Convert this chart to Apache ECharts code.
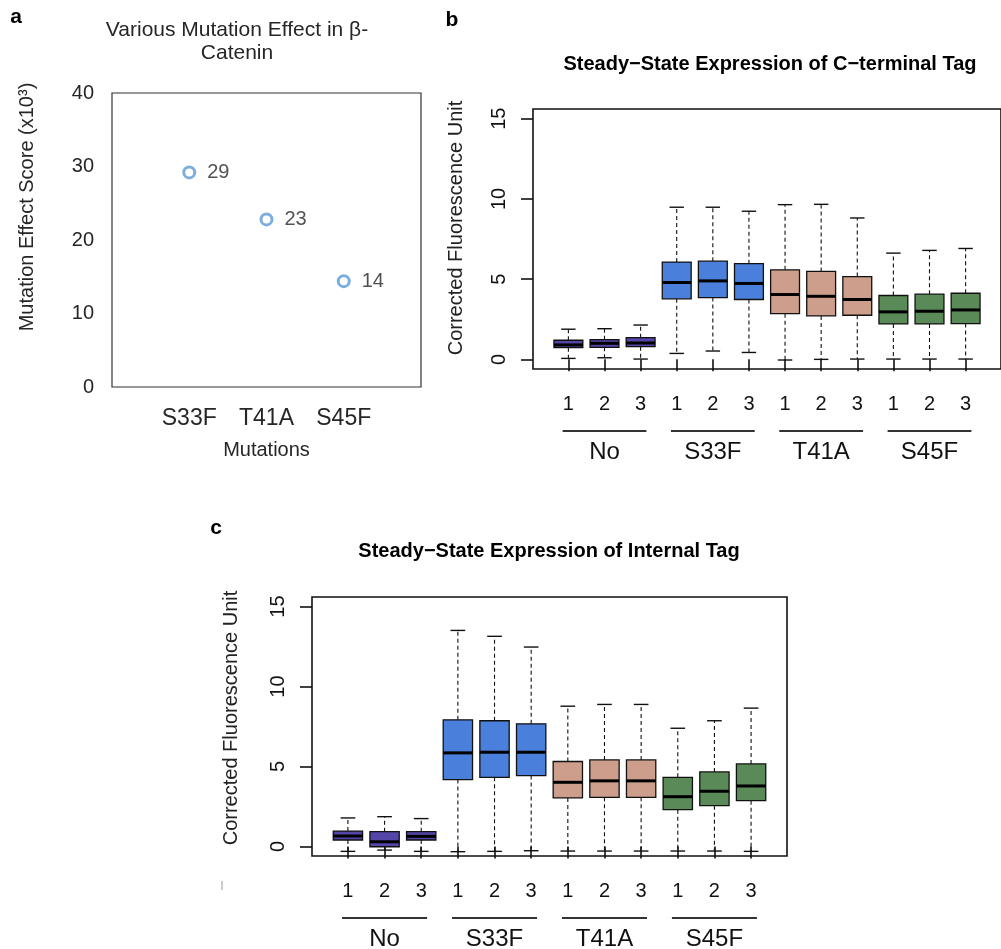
<!DOCTYPE html>
<html>
<head>
<meta charset="utf-8">
<title>Mutation effect and steady-state expression</title>
<script src="https://cdn.jsdelivr.net/npm/echarts@6/dist/echarts.min.js"></script>
<style>
  html, body { margin: 0; padding: 0; background: #fff; }
  #chart { width: 1001px; height: 949px; }
</style>
</head>
<body>
<div id="chart"></div>
<script>
// panel a
var mutations = ['S33F', 'T41A', 'S45F'];
var effectScores = [29.2, 22.8, 14.4];

// panel b / c : 4 groups x 3 replicates
var groupNames = ['No', 'S33F', 'T41A', 'S45F'];
var tickLabels = ['1', '2', '3', '1', '2', '3', '1', '2', '3', '1', '2', '3'];

// C-terminal tag
var lowB  = [0.06, 0.10, 0.02, 0.37, 0.52, 0.43, -0.04, 0.00, 0.02, 0.02, 0.02, 0.02];
var q1B   = [0.73, 0.75, 0.79, 3.77, 3.85, 3.73, 2.85, 2.71, 2.75, 2.21, 2.21, 2.23];
var medB  = [0.90, 1.00, 1.02, 4.79, 4.89, 4.73, 4.04, 3.93, 3.73, 2.96, 3.00, 3.08];
var q3B   = [1.19, 1.23, 1.35, 6.06, 6.12, 5.96, 5.58, 5.48, 5.16, 3.98, 4.06, 4.12];
var highB = [1.88, 1.91, 2.14, 9.48, 9.48, 9.23, 9.64, 9.66, 8.81, 6.62, 6.79, 6.91];

// internal tag
var lowC  = [-0.31, -0.23, -0.31, -0.33, -0.31, -0.27, -0.29, -0.29, -0.29, -0.29, -0.29, -0.31];
var q1C   = [0.40, -0.02, 0.40, 4.18, 4.32, 4.43, 3.03, 3.07, 3.07, 2.30, 2.55, 2.86];
var medC  = [0.65, 0.29, 0.63, 5.85, 5.89, 5.89, 4.01, 4.10, 4.10, 3.11, 3.45, 3.78];
var q3C   = [0.96, 0.92, 0.92, 7.92, 7.86, 7.67, 5.31, 5.41, 5.41, 4.32, 4.66, 5.16];
var highC = [1.78, 1.86, 1.74, 13.51, 13.14, 12.47, 8.77, 8.88, 8.88, 7.39, 7.86, 8.65];

var yTicks = [0, 5, 10, 15];

var FONT = "'Liberation Sans', Arial, Helvetica, sans-serif";
var groupColors = ['#5346a8', '#4a7fdb', '#cc9e8b', '#5a8a57'];

var myChart = echarts.init(document.getElementById('chart'), null, { renderer: 'canvas' });

var tickPos = tickLabels.map(function (t, i) { return i + 1; });
var groupCenters = groupNames.map(function (g, i) { return i * 3 + 2; });

function boxRows(low, q1, med, q3, high) {
  return tickPos.map(function (p, i) {
    return [p, low[i], q1[i], med[i], q3[i], high[i]];
  });
}

// box + dashed whiskers, drawn through the axis scales
function renderBox(params, api) {
  var x = api.value(0);
  var pLow = api.coord([x, api.value(1)]);
  var pQ1 = api.coord([x, api.value(2)]);
  var pMed = api.coord([x, api.value(3)]);
  var pQ3 = api.coord([x, api.value(4)]);
  var pHigh = api.coord([x, api.value(5)]);
  var bw = api.size([0.8, 0])[0];
  var cw = api.size([0.4, 0])[0];
  var cx = pLow[0];
  var col = groupColors[Math.floor(params.dataIndex / 3)];
  var dash = { stroke: '#111', lineWidth: 1.1, lineDash: [4, 3] };
  var solid = { stroke: '#111', lineWidth: 1.4 };
  return {
    type: 'group',
    children: [
      { type: 'line', shape: { x1: cx, y1: pQ3[1], x2: cx, y2: pHigh[1] }, style: dash },
      { type: 'line', shape: { x1: cx, y1: pQ1[1], x2: cx, y2: pLow[1] }, style: dash },
      { type: 'line', shape: { x1: cx - cw / 2, y1: pHigh[1], x2: cx + cw / 2, y2: pHigh[1] }, style: solid },
      { type: 'line', shape: { x1: cx - cw / 2, y1: pLow[1], x2: cx + cw / 2, y2: pLow[1] }, style: solid },
      { type: 'rect', shape: { x: cx - bw / 2, y: pQ3[1], width: bw, height: pQ1[1] - pQ3[1] },
        style: { fill: col, stroke: '#111', lineWidth: 1.3 } },
      { type: 'line', shape: { x1: cx - bw / 2, y1: pMed[1], x2: cx + bw / 2, y2: pMed[1] },
        style: { stroke: '#000', lineWidth: 3 } }
    ]
  };
}

// group underline + group name below the tick labels
function renderGroup(params, api) {
  var p = api.coord([api.value(0), -0.6]);
  var hw = api.size([1.16, 0])[0];
  return {
    type: 'group',
    children: [
      { type: 'line', shape: { x1: p[0] - hw, y1: p[1] + 62, x2: p[0] + hw, y2: p[1] + 62 },
        style: { stroke: '#333', lineWidth: 2 } },
      { type: 'text', style: { text: groupNames[params.dataIndex], x: p[0], y: p[1] + 83,
        textAlign: 'center', textVerticalAlign: 'middle', font: '24px ' + FONT, fill: '#111' } }
    ]
  };
}

function boxXAxis(gi) {
  return {
    gridIndex: gi, type: 'value', min: 0.02, max: 12.98,
    axisLine: { show: false },
    splitLine: { show: false },
    axisTick: { show: true, customValues: tickPos, length: 12, lineStyle: { color: '#111', width: 1.6 } },
    axisLabel: {
      customValues: tickPos, margin: 25, fontSize: 20, color: '#111', fontFamily: FONT,
      formatter: function (v) { return tickLabels[Math.round(v) - 1]; }
    }
  };
}

function boxYAxis(gi) {
  return {
    gridIndex: gi, type: 'value', min: -0.6, max: 15.6,
    axisLine: { show: false },
    splitLine: { show: false },
    axisTick: { show: true, customValues: yTicks, length: 12, lineStyle: { color: '#111', width: 1.6 } },
    axisLabel: { customValues: yTicks, rotate: 90, margin: 24, fontSize: 20, color: '#111', fontFamily: FONT }
  };
}

var option = {
  backgroundColor: '#fff',
  animation: false,
  textStyle: { fontFamily: FONT },
  grid: [
    { left: 112, top: 93, width: 309, height: 294, show: true, borderColor: '#333', borderWidth: 1.2, backgroundColor: 'transparent' },
    { left: 533, top: 109, width: 474.5, height: 260, show: true, borderColor: '#111', borderWidth: 1.6, backgroundColor: 'transparent' },
    { left: 312, top: 597, width: 475, height: 259, show: true, borderColor: '#111', borderWidth: 1.6, backgroundColor: 'transparent' }
  ],
  xAxis: [
    {
      gridIndex: 0, type: 'category', boundaryGap: false,
      data: [''].concat(mutations, ['']),
      axisLine: { show: false }, axisTick: { show: false }, splitLine: { show: false },
      axisLabel: { interval: 0, fontSize: 23, margin: 20, color: '#262626' },
      name: 'Mutations', nameLocation: 'middle', nameGap: 53,
      nameTextStyle: { fontSize: 20, color: '#262626' }
    },
    boxXAxis(1),
    boxXAxis(2)
  ],
  yAxis: [
    {
      gridIndex: 0, type: 'value', min: 0, max: 40, interval: 10,
      axisLine: { show: false }, axisTick: { show: false }, splitLine: { show: false },
      axisLabel: { fontSize: 20, margin: 18, color: '#262626' }
    },
    boxYAxis(1),
    boxYAxis(2)
  ],
  series: [
    {
      type: 'scatter', xAxisIndex: 0, yAxisIndex: 0,
      symbol: 'circle', symbolSize: 11,
      itemStyle: { color: '#fff', borderColor: '#5b9bd5', borderWidth: 3 },
      label: {
        show: true, position: 'right', distance: 11, fontSize: 20, color: '#262626',
        formatter: function (p) { return Math.round(p.value[1]); }
      },
      data: mutations.map(function (m, i) { return [m, effectScores[i]]; })
    },
    {
      type: 'custom', xAxisIndex: 1, yAxisIndex: 1, clip: false,
      renderItem: renderBox, encode: { x: 0, y: [1, 2, 3, 4, 5] },
      data: boxRows(lowB, q1B, medB, q3B, highB)
    },
    {
      type: 'custom', xAxisIndex: 2, yAxisIndex: 2, clip: false,
      renderItem: renderBox, encode: { x: 0, y: [1, 2, 3, 4, 5] },
      data: boxRows(lowC, q1C, medC, q3C, highC)
    },
    {
      type: 'custom', xAxisIndex: 1, yAxisIndex: 1, clip: false, silent: true,
      renderItem: renderGroup, encode: { x: 0, y: 1 },
      data: groupCenters.map(function (c) { return [c, 0]; })
    },
    {
      type: 'custom', xAxisIndex: 2, yAxisIndex: 2, clip: false, silent: true,
      renderItem: renderGroup, encode: { x: 0, y: 1 },
      data: groupCenters.map(function (c) { return [c, 0]; })
    }
  ],
  graphic: [
    // panel letters
    { type: 'text', x: 16, y: 17, style: { text: 'a', font: 'bold 21px ' + FONT, fill: '#000', textAlign: 'center', textVerticalAlign: 'middle' } },
    { type: 'text', x: 452, y: 20, style: { text: 'b', font: 'bold 21px ' + FONT, fill: '#000', textAlign: 'center', textVerticalAlign: 'middle' } },
    { type: 'text', x: 216, y: 528, style: { text: 'c', font: 'bold 21px ' + FONT, fill: '#000', textAlign: 'center', textVerticalAlign: 'middle' } },
    // titles
    { type: 'text', x: 237, y: 42, style: { text: 'Various Mutation Effect in β-\nCatenin', font: '21px ' + FONT, lineHeight: 23, fill: '#262626', textAlign: 'center', textVerticalAlign: 'middle' } },
    { type: 'text', x: 770, y: 64, style: { text: 'Steady\u2212State Expression of C\u2212terminal Tag', font: 'bold 20px ' + FONT, fill: '#000', textAlign: 'center', textVerticalAlign: 'middle' } },
    { type: 'text', x: 549, y: 551, style: { text: 'Steady\u2212State Expression of Internal Tag', font: 'bold 20px ' + FONT, fill: '#000', textAlign: 'center', textVerticalAlign: 'middle' } },
    // y axis titles
    { type: 'text', x: 27, y: 207, rotation: Math.PI / 2, style: { text: 'Mutation Effect Score (x10³)', font: '20px ' + FONT, fill: '#262626', textAlign: 'center', textVerticalAlign: 'middle' } },
    { type: 'text', x: 456, y: 228, rotation: Math.PI / 2, style: { text: 'Corrected Fluorescence Unit', font: '20px ' + FONT, fill: '#222', textAlign: 'center', textVerticalAlign: 'middle' } },
    { type: 'text', x: 231, y: 718, rotation: Math.PI / 2, style: { text: 'Corrected Fluorescence Unit', font: '20px ' + FONT, fill: '#222', textAlign: 'center', textVerticalAlign: 'middle' } },
    // small stray mark left of panel c
    { type: 'line', shape: { x1: 222, y1: 881, x2: 222, y2: 890 }, style: { stroke: '#bbb', lineWidth: 1.5 } }
  ]
};

myChart.setOption(option);
window.addEventListener('resize', function () {
  myChart.resize();
});
</script>
</body>
</html>
